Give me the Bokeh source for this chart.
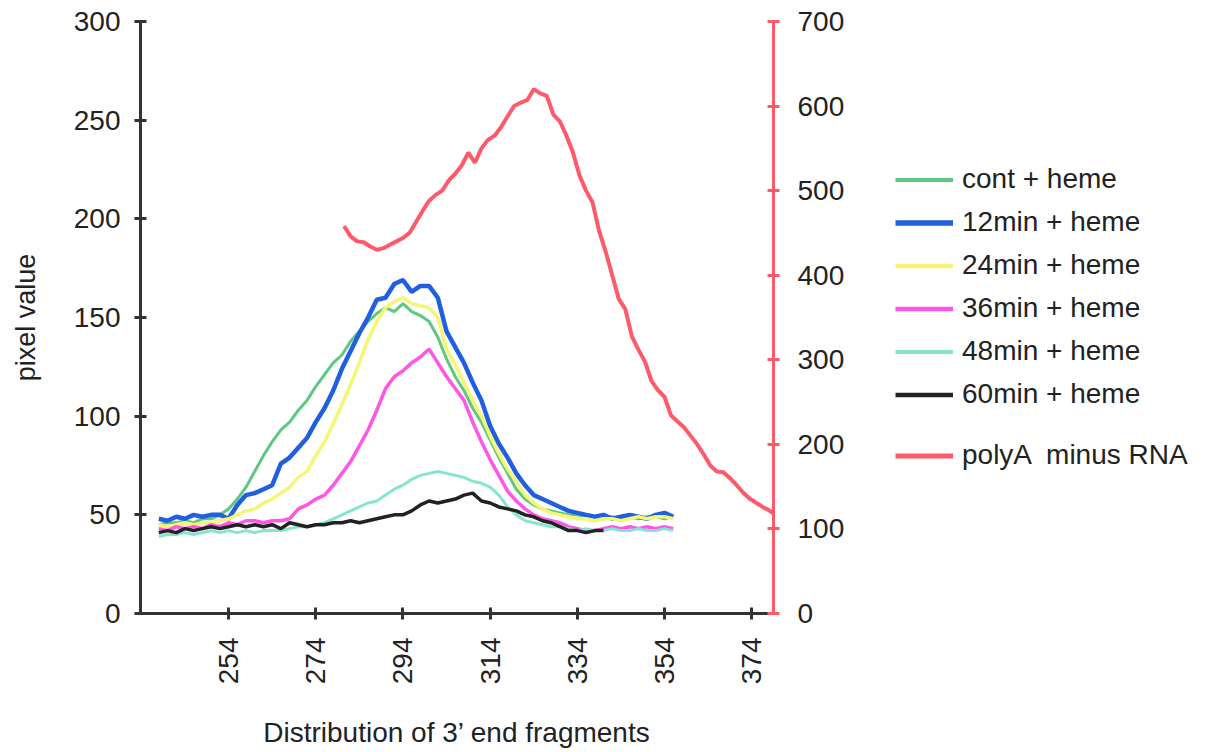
from bokeh.plotting import figure
from bokeh.layouts import row
from bokeh.models import LinearAxis, Range1d, FixedTicker, Legend, LegendItem
from bokeh.embed import file_html
from bokeh.resources import INLINE

# ---- data ----
x_main = list(range(238, 357, 2))
x_black = list(range(238, 341, 2))

cont_heme = [45, 46, 46, 47, 46, 48, 48, 50, 53, 58, 64, 72, 80, 87, 93, 97, 103, 108, 115, 121,
             127, 131, 138, 143, 148, 152, 155, 153, 157, 153, 151, 148, 140, 129, 120, 113, 104, 97, 88, 79,
             71, 63, 58, 55, 53, 52, 51, 50, 50, 49, 49, 48, 49, 48, 49, 48, 49, 49, 48, 49]
min12_heme = [48, 47, 49, 48, 50, 49, 50, 50, 48, 55, 60, 61, 63, 65, 76, 79, 84, 89, 97, 104,
              113, 124, 133, 142, 150, 159, 160, 167, 169, 163, 166, 166, 160, 143, 135, 127, 117, 108, 95, 86,
              79, 71, 65, 60, 58, 56, 54, 52, 51, 50, 49, 50, 48, 49, 50, 49, 48, 50, 51, 49]
min24_heme = [45, 44, 45, 46, 45, 46, 46, 47, 48, 50, 52, 53, 56, 58, 61, 64, 69, 72, 80, 87,
              96, 106, 116, 127, 139, 148, 155, 158, 160, 157, 156, 155, 150, 134, 126, 117, 108, 100, 90, 81,
              73, 67, 60, 56, 53, 51, 50, 49, 48, 48, 47, 48, 48, 47, 48, 49, 48, 49, 49, 48]
min36_heme = [43, 42, 44, 43, 44, 43, 45, 44, 46, 45, 47, 47, 46, 47, 47, 48, 53, 55, 58, 60,
              65, 71, 77, 85, 93, 103, 114, 120, 123, 127, 130, 134, 127, 120, 114, 108, 97, 87, 78, 70,
              62, 57, 53, 50, 48, 47, 46, 44, 43, 42, 42, 43, 44, 43, 44, 43, 44, 43, 44, 43]
min48_heme = [39, 40, 40, 41, 40, 41, 42, 41, 42, 41, 42, 41, 42, 42, 42, 43, 44, 44, 45, 46,
              48, 50, 52, 54, 56, 57, 60, 63, 65, 68, 70, 71, 72, 71, 70, 69, 67, 66, 64, 60,
              54, 50, 47, 46, 45, 44, 44, 43, 42, 43, 42, 42, 43, 42, 42, 43, 42, 42, 43, 42]
min60_heme = [41, 42, 41, 43, 42, 43, 44, 43, 44, 45, 44, 45, 44, 45, 43, 46, 45, 44, 45, 45,
              46, 46, 47, 46, 47, 48, 49, 50, 50, 52, 55, 57, 56, 57, 58, 60, 61, 57, 56, 54,
              53, 52, 50, 49, 47, 46, 44, 42, 42, 41, 42, 42]

x_polya = [280.5, 282, 283.5, 285, 286.5, 288, 289.5, 291, 292.5, 294, 295.5, 297, 298.5, 300, 301.5,
           303, 304.5, 306, 307.5, 309, 310.5, 312, 313.5, 315, 316.5, 318, 319.5, 321, 322.5, 324,
           325.5, 327, 328.5, 330, 331.5, 333, 334.5, 336, 337.5, 339, 340.5, 342, 343.5, 345, 346.5,
           348, 349.5, 351, 352.5, 354, 355.5, 357, 358.5, 360, 361.5, 363, 364.5, 366, 367.5, 369,
           370.5, 372, 373.5, 375, 376.5, 378, 379]
polya_minus = [458, 446, 440, 439, 434, 430, 432, 436, 440, 444, 450, 463, 476, 488, 495,
               500, 512, 520, 530, 545, 533, 550, 560, 565, 575, 588, 600, 604, 607, 620,
               615, 612, 590, 582, 565, 545, 518, 500, 486, 452, 428, 400, 372, 360, 328,
               312, 298, 275, 264, 256, 234, 227, 220, 210, 200, 188, 175, 168, 167, 160,
               152, 143, 136, 131, 126, 122, 118]

x_ticks = [254, 274, 294, 314, 334, 354, 374]
left_ticks = [0, 50, 100, 150, 200, 250, 300]
right_ticks = [0, 100, 200, 300, 400, 500, 600, 700]

labels_top = ["cont + heme", "12min + heme", "24min + heme", "36min + heme",
              "48min + heme", "60min + heme"]
label_bottom = "polyA  minus RNA"

FONT = "Liberation Sans"
AXIS = "#333333"
RED = "#ff5a6a"
styles = [("#5ec882", 3), ("#1f5fe0", 4.5), ("#f6f676", 3.5), ("#ff55e8", 3.5),
          ("#86e4cf", 3), ("#222222", 3.5)]

H = 743
p = figure(frame_width=633, frame_height=592,
           min_border_left=140, min_border_right=100, min_border_top=21, min_border_bottom=130,
           x_range=Range1d(233.8, 379), y_range=Range1d(0, 300),
           output_backend="svg", toolbar_location=None)
p.outline_line_color = None
p.xgrid.visible = False
p.ygrid.visible = False
p.extra_y_ranges = {"r": Range1d(0, 700)}

def style_axis(ax, color):
    ax.axis_line_color = color
    ax.axis_line_width = 3
    ax.major_tick_line_color = color
    ax.major_tick_line_width = 3
    ax.major_tick_in = 6
    ax.major_tick_out = 6
    ax.minor_tick_line_color = None
    ax.major_label_text_font = FONT
    ax.major_label_text_font_size = "28px"
    ax.major_label_text_color = "#222222"
    ax.axis_label_text_font = FONT
    ax.axis_label_text_font_size = "27px"
    ax.axis_label_text_font_style = "normal"
    ax.axis_label_text_color = "#222222"

xa = p.xaxis[0]
style_axis(xa, AXIS)
xa.ticker = FixedTicker(ticks=x_ticks)
xa.major_label_orientation = 1.5708
xa.major_label_standoff = 18
xa.axis_label = "Distribution of 3\u2019 end fragments"
xa.axis_label_text_font_size = "28px"
xa.axis_label_standoff = 30

ya = p.yaxis[0]
style_axis(ya, AXIS)
ya.ticker = FixedTicker(ticks=left_ticks)
ya.major_label_standoff = 14
ya.axis_label = "pixel value"
ya.axis_label_standoff = 30

ra = LinearAxis(y_range_name="r")
style_axis(ra, RED)
ra.ticker = FixedTicker(ticks=right_ticks)
ra.major_label_standoff = 18
p.add_layout(ra, "right")

series = [cont_heme, min12_heme, min24_heme, min36_heme, min48_heme]
for ys, (c, w) in zip(series, styles[:5]):
    p.line(x_main, ys, line_color=c, line_width=w)
p.line(x_black, min60_heme, line_color=styles[5][0], line_width=styles[5][1])
p.line(x_polya, polya_minus, line_color=RED, line_width=4, y_range_name="r")

# ---- legend panel (separate figure so it is not clipped) ----
lf = figure(width=330, height=H, x_range=Range1d(0, 1), y_range=Range1d(0, 1),
            x_axis_type=None, y_axis_type=None, min_border=0,
            output_backend="svg", toolbar_location=None)
lf.outline_line_color = None
lf.xgrid.visible = False
lf.ygrid.visible = False

dummy = [lf.line([5, 6], [5, 5], line_color=c, line_width=w + 1) for c, w in styles]
dummy_pa = lf.line([5, 6], [5, 5], line_color=RED, line_width=5)

def make_legend(items, loc):
    lg = Legend(items=items, location=loc)
    lg.label_text_font = FONT
    lg.label_text_font_size = "28px"
    lg.label_text_color = "#222222"
    lg.glyph_width = 58
    lg.glyph_height = 31
    lg.label_height = 31
    lg.label_standoff = 9
    lg.spacing = 11
    lg.padding = 0
    lg.margin = 0
    lg.border_line_color = None
    lg.background_fill_alpha = 0
    return lg

leg1 = make_legend([LegendItem(label=t, renderers=[r]) for t, r in zip(labels_top, dummy)],
                   (22, 195))
leg2 = make_legend([LegendItem(label=label_bottom, renderers=[dummy_pa])], (22, 134))
lf.add_layout(leg1)
lf.add_layout(leg2)

open("out.html", "w").write(file_html(row(p, lf), INLINE))
